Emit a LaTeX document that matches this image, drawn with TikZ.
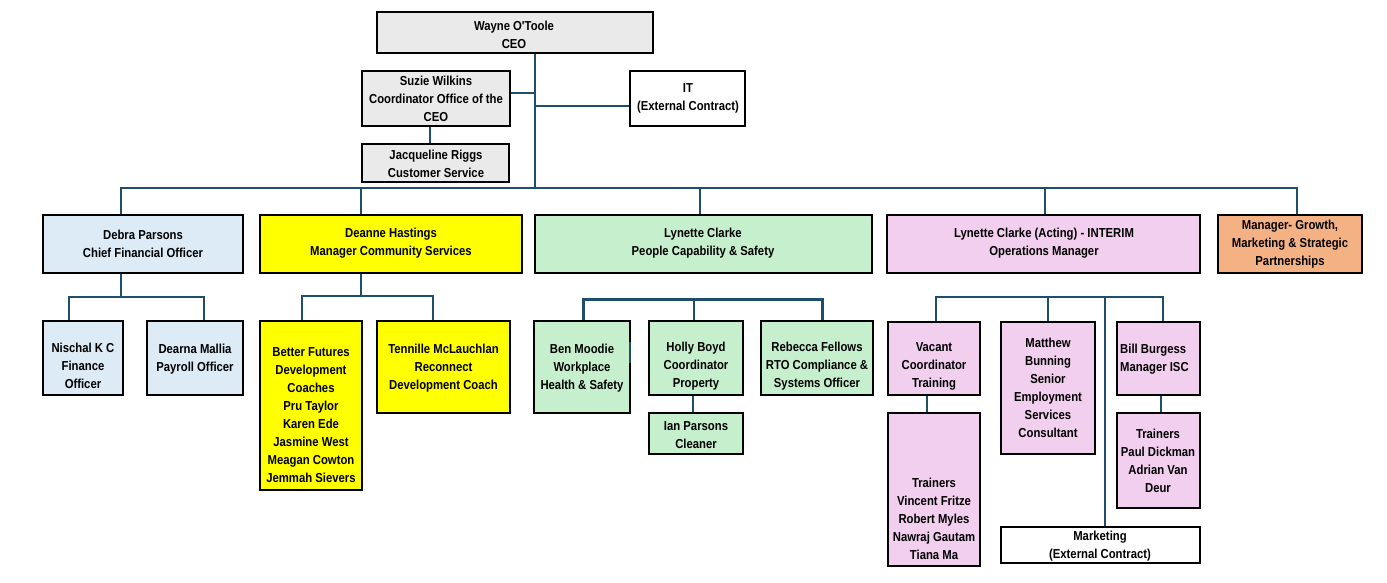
\documentclass[tikz,border=0pt]{standalone}
\usepackage{fontspec}
\newfontfamily\orgfont{Liberation Sans}[FakeStretch=0.87]
\definecolor{conn}{HTML}{1F4E6B}
\definecolor{cgray}{HTML}{EAEAEA}
\definecolor{cblue}{HTML}{DDEBF7}
\definecolor{cyellow}{HTML}{FFFF00}
\definecolor{cgreen}{HTML}{C6EFCE}
\definecolor{cpink}{HTML}{F2CEEF}
\definecolor{corange}{HTML}{F4B183}
\pgfdeclarelayer{bg}
\pgfsetlayers{bg,main}
\newcommand\obox[6]{\node[box, fill=#2, minimum width={#5-#3}, minimum height={#6-#4}] (#1) at ({(#3+#5)/2},{(#4+#6)/2}) {};}
\begin{document}
\begin{tikzpicture}[x=1pt,y=-1pt,
  box/.style={draw=black, line width=2.8pt, inner sep=0pt, outer sep=0pt},
  txt/.style={font=\orgfont\bfseries\fontsize{13}{18}\selectfont, align=center, inner sep=0pt},
  link/.style={draw=conn, line width=2.2pt}]
\useasboundingbox (0,0) rectangle (1387,583);

% top
\obox{ceo}{cgray}{377}{12}{653}{53}
\node[txt] (ceo-t) at (514,34.5) {Wayne O'Toole\\CEO};
\obox{suzie}{cgray}{362}{71}{510}{126}
\node[txt] (suzie-t) at (436,99) {Suzie Wilkins\\Coordinator Office of the\\CEO};
\obox{it}{white}{630}{71}{745}{126}
\node[txt] (it-t) at (688,98.5) {IT\\(External Contract)};
\obox{jac}{cgray}{362}{144}{509}{182}
\node[txt] (jac-t) at (436,163.5) {Jacqueline Riggs\\Customer Service};

% row 2
\obox{debra}{cblue}{43}{215}{243}{273}
\node[txt] (debra-t) at (143,243.5) {Debra Parsons\\Chief Financial Officer};
\obox{deanne}{cyellow}{260}{215}{522}{273}
\node[txt] (deanne-t) at (391,243.5) {Deanne Hastings\\Manager Community Services};
\obox{lyn}{cgreen}{535}{215}{872}{273}
\node[txt] (lyn-t) at (703,243.5) {Lynette Clarke\\People Capability \& Safety};
\obox{lyna}{cpink}{887}{215}{1200}{273}
\node[txt] (lyna-t) at (1044,243) {Lynette Clarke (Acting) - INTERIM\\Operations Manager};
\obox{growth}{corange}{1218}{215}{1362}{273}
\node[txt] (growth-t) at (1290,244.5) {Manager- Growth,\\Marketing \& Strategic\\Partnerships};

% row 3 - finance
\obox{nis}{cblue}{43}{321}{123}{395}
\node[txt] (nis-t) at (83,366) {Nischal K C\\Finance\\Officer};
\obox{dea}{cblue}{147}{321}{243}{395}
\node[txt] (dea-t) at (195,359) {Dearna Mallia\\Payroll Officer};
% community services
\obox{bf}{cyellow}{260}{321}{362}{490}
\node[txt] (bf-t) at (311,415.5) {Better Futures\\Development\\Coaches\\Pru Taylor\\Karen Ede\\Jasmine West\\Meagan Cowton\\Jemmah Sievers};
\obox{ten}{cyellow}{377}{321}{510}{413}
\node[txt] (ten-t) at (443.5,368) {Tennille McLauchlan\\Reconnect\\Development Coach};
% people capability
\obox{ben}{cgreen}{534}{321}{630}{413}
\node[txt] (ben-t) at (582,368) {Ben Moodie\\Workplace\\Health \& Safety};
\obox{hol}{cgreen}{649}{321}{743}{395}
\node[txt] (hol-t) at (696,366) {Holly Boyd\\Coordinator\\Property};
\obox{reb}{cgreen}{761}{321}{873}{395}
\node[txt] (reb-t) at (817,366) {Rebecca Fellows\\RTO Compliance \&\\Systems Officer};
\obox{ian}{cgreen}{649}{413}{743}{454}
\node[txt] (ian-t) at (696,435) {Ian Parsons\\Cleaner};
% operations
\obox{vac}{cpink}{888}{322}{980}{395}
\node[txt] (vac-t) at (934,366) {Vacant\\Coordinator\\Training};
\obox{trv}{cpink}{888}{413}{980}{566}
\node[txt] (trv-t) at (934,519) {Trainers\\Vincent Fritze\\Robert Myles\\Nawraj Gautam\\Tiana Ma};
\obox{mat}{cpink}{1001}{322}{1095}{454}
\node[txt] (mat-t) at (1048,388) {Matthew\\Bunning\\Senior\\Employment\\Services\\Consultant};
\obox{bill}{cpink}{1117}{322}{1200}{395}
\node[txt, align=left, anchor=west] (bill-t) at (1120,359) {Bill Burgess\\Manager ISC};
\obox{trp}{cpink}{1117}{413}{1200}{508}
\node[txt] (trp-t) at (1158,461) {Trainers\\Paul Dickman\\Adrian Van\\Deur};
\obox{mkt}{white}{1001}{527}{1200}{563}
\node[txt] (mkt-t) at (1100,546.5) {Marketing\\(External Contract)};

% connectors
\begin{pgfonlayer}{bg}
\fill[white] (0,0) rectangle (1387,583);
\coordinate (trunk) at (535,188);
\coordinate (sj) at (535,93);
\coordinate (ij) at (535,106);
\coordinate (sjx) at (430,0);
\draw[link] (ceo.south -| trunk) -- (trunk);
\draw[link] (suzie.east |- sj) -- (sj);
\draw[link] (ij) -- (it.west |- ij);
\draw[link] (suzie.south -| sjx) -- (jac.north -| sjx);

\coordinate (b1) at (121,188);
\coordinate (b2) at (361,188);
\coordinate (b3) at (700,188);
\coordinate (b4) at (1045,188);
\coordinate (b5) at (1297,188);
\draw[link] (debra.north -| b1) -- (b1) -- (b5) -- (growth.north -| b5);
\draw[link] (b2) -- (deanne.north -| b2);
\draw[link] (b3) -- (lyn.north -| b3);
\draw[link] (b4) -- (lyna.north -| b4);

\coordinate (d0) at (121,297);
\coordinate (d1) at (69,297);
\coordinate (d2) at (204,297);
\draw[link] (debra.south -| d0) -- (d0);
\draw[link] (nis.north -| d1) -- (d1) -- (d2) -- (dea.north -| d2);

\coordinate (e0) at (361,296);
\coordinate (e1) at (302,296);
\coordinate (e2) at (433,296);
\draw[link] (deanne.south -| e0) -- (e0);
\draw[link] (bf.north -| e1) -- (e1) -- (e2) -- (ten.north -| e2);

\coordinate (l1) at (583,299);
\coordinate (l2) at (694,299);
\coordinate (l3) at (822,299);
\coordinate (l4) at (693,0);
\draw[link, line width=3pt] (ben.north -| l1) -- (l1) -- (l3) -- (reb.north -| l3);
\draw[link] (l2) -- (hol.north -| l2);
\draw[link] (hol.south -| l4) -- (ian.north -| l4);

\coordinate (o1) at (936,297);
\coordinate (o2) at (1048,297);
\coordinate (o3) at (1105,297);
\coordinate (o4) at (1163,297);
\coordinate (o5) at (927,0);
\coordinate (o6) at (1161,0);
\draw[link] (vac.north -| o1) -- (o1) -- (o4) -- (bill.north -| o4);
\draw[link] (o2) -- (mat.north -| o2);
\draw[link] (o3) -- (mkt.north -| o3);
\draw[link] (vac.south -| o5) -- (trv.north -| o5);
\draw[link] (bill.south -| o6) -- (trp.north -| o6);
\end{pgfonlayer}
\draw[link] ([yshift=25pt]ben.east) -- ([yshift=4pt]ben.east);
\end{tikzpicture}
\end{document}
